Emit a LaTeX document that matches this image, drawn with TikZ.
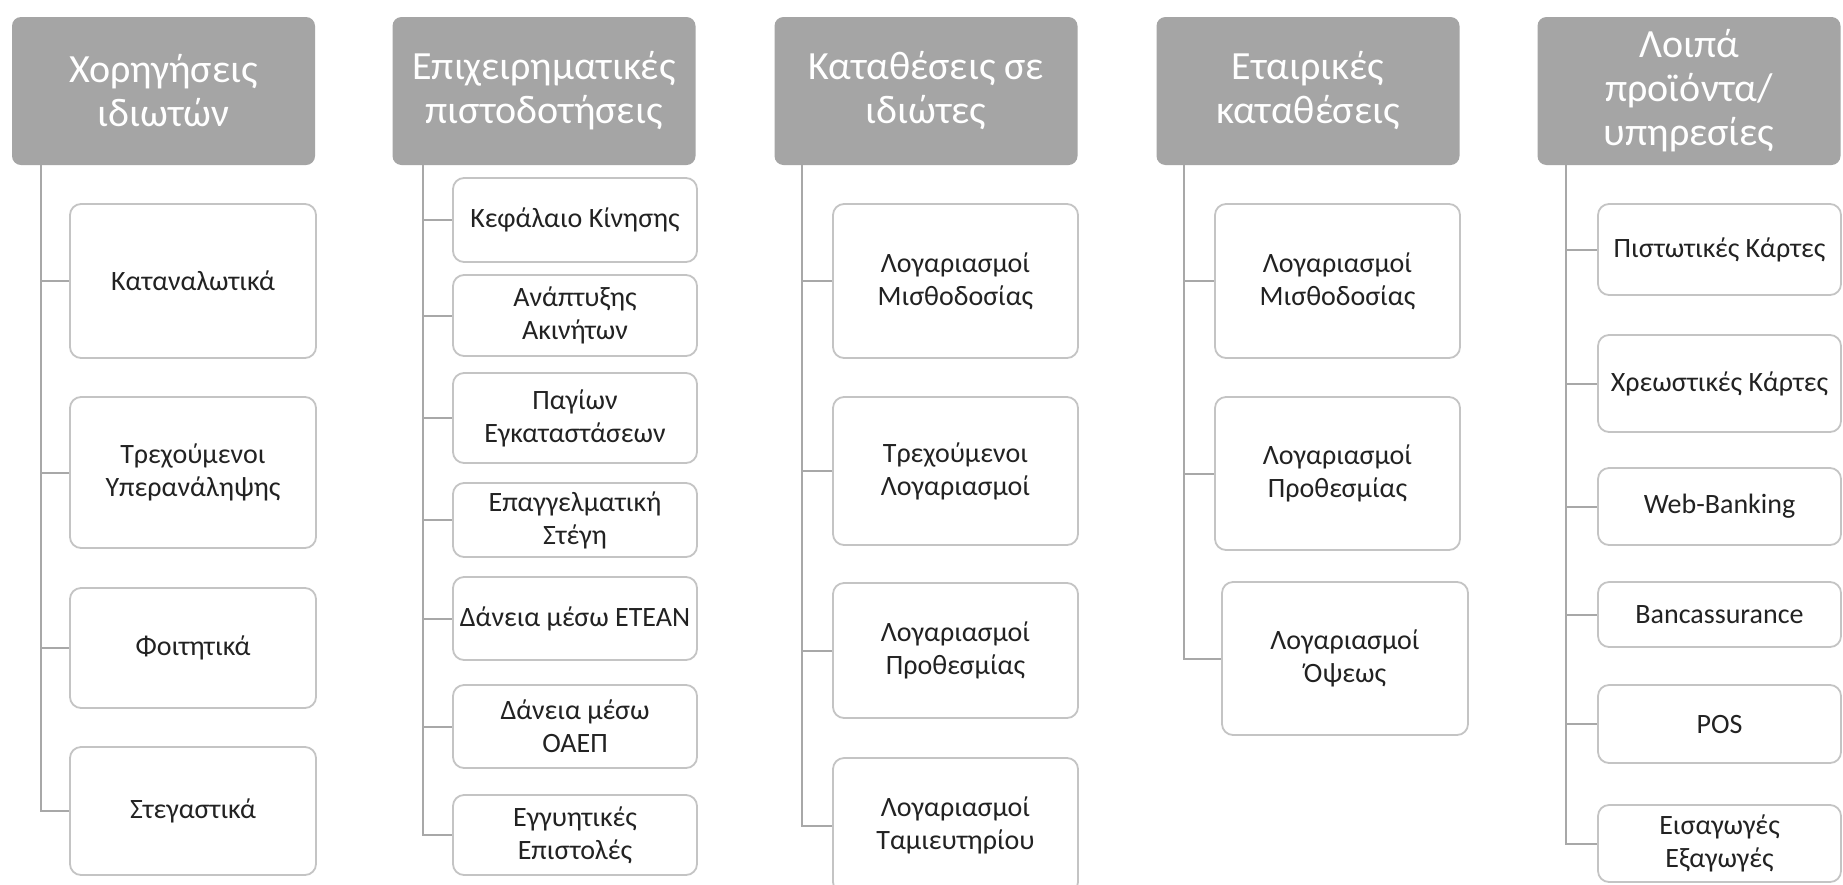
\documentclass[tikz,border=0pt]{standalone}
\usepackage{fontspec}
\setmainfont{Carlito}
\definecolor{hdrgray}{HTML}{A5A5A5}
\definecolor{boxgray}{HTML}{C4C4C4}
\definecolor{linegray}{HTML}{A8A8A8}
\definecolor{txtgray}{HTML}{222222}
\tikzset{
  hdr/.style={rectangle, rounded corners=9pt, fill=hdrgray, text=white,
    font=\fontsize{40}{44}\selectfont, align=center, inner sep=0pt,
    minimum width=303pt, minimum height=148pt},
  itembox/.style={rectangle, rounded corners=11pt, draw=boxgray, line width=1.8pt,
    fill=white, text=txtgray, font=\fontsize{28}{33}\selectfont, align=center, inner sep=0pt},
  conn/.style={draw=linegray, line width=2pt}
}
\newcommand{\ib}[6]{% name, cx, cy, w, h, text
  \node[itembox, minimum width=#4pt, minimum height=#5pt] (#1) at (#2,#3) {#6};}
\begin{document}
\begin{tikzpicture}[x=1pt,y=-1pt]
\useasboundingbox[fill=white] (0,0) rectangle (1843,884);
% headers
\node[hdr] (h1) at (163.5,91) {Χορηγήσεις\\ιδιωτών};
\node[hdr] (h2) at (544,91) {Επιχειρηματικές\\πιστοδοτήσεις};
\node[hdr] (h3) at (926,91) {Καταθέσεις σε\\ιδιώτες};
\node[hdr] (h4) at (1308,91) {Εταιρικές\\καταθέσεις};
\node[hdr] (h5) at (1689,91) {Λοιπά\\προϊόντα/\\υπηρεσίες};
% column 1
\ib{b11}{193}{281}{246}{154}{Καταναλωτικά}
\ib{b12}{193}{472.5}{246}{151}{Τρεχούμενοι\\Υπερανάληψης}
\ib{b13}{193}{648}{246}{120}{Φοιτητικά}
\ib{b14}{193}{811}{246}{128}{Στεγαστικά}
% column 2
\ib{b21}{575}{220}{244}{84}{Κεφάλαιο Κίνησης}
\ib{b22}{575}{315.5}{244}{81}{Ανάπτυξης\\Ακινήτων}
\ib{b23}{575}{418}{244}{90}{Παγίων\\Εγκαταστάσεων}
\ib{b24}{575}{520}{244}{74}{Επαγγελματική\\Στέγη}
\ib{b25}{575}{618.5}{244}{83}{Δάνεια μέσω ΕΤΕΑΝ}
\ib{b26}{575}{726.5}{244}{83}{Δάνεια μέσω\\ΟΑΕΠ}
\ib{b27}{575}{835}{244}{80}{Εγγυητικές\\Επιστολές}
% column 3
\ib{b31}{955.5}{281}{245}{154}{Λογαριασμοί\\Μισθοδοσίας}
\ib{b32}{955.5}{471}{245}{148}{Τρεχούμενοι\\Λογαριασμοί}
\ib{b33}{955.5}{650.5}{245}{135}{Λογαριασμοί\\Προθεσμίας}
\ib{b34}{955.5}{825.5}{245}{135}{Λογαριασμοί\\Ταμιευτηρίου}
% column 4
\ib{b41}{1337.5}{281}{245}{154}{Λογαριασμοί\\Μισθοδοσίας}
\ib{b42}{1337.5}{473.5}{245}{153}{Λογαριασμοί\\Προθεσμίας}
\ib{b43}{1345}{658.5}{246}{153}{Λογαριασμοί\\Όψεως}
% column 5
\ib{b51}{1719.5}{249.5}{243}{91}{Πιστωτικές Κάρτες}
\ib{b52}{1719.5}{383.5}{243}{97}{Χρεωστικές Κάρτες}
\ib{b53}{1719.5}{506.5}{243}{77}{Web-Banking}
\ib{b54}{1719.5}{614.5}{243}{65}{Bancassurance}
\ib{b55}{1719.5}{724}{243}{78}{POS}
\ib{b56}{1719.5}{843.5}{243}{77}{Εισαγωγές\\Εξαγωγές}
% connectors
\foreach \b in {b11,b12,b13,b14}
  \draw[conn] ([xshift=29pt]h1.south west) |- (\b.west);
\foreach \b in {b21,b22,b23,b24,b25,b26,b27}
  \draw[conn] ([xshift=31pt]h2.south west) |- (\b.west);
\foreach \b in {b31,b32,b33,b34}
  \draw[conn] ([xshift=28pt]h3.south west) |- (\b.west);
\foreach \b in {b41,b42,b43}
  \draw[conn] ([xshift=28pt]h4.south west) |- (\b.west);
\foreach \b in {b51,b52,b53,b54,b55,b56}
  \draw[conn] ([xshift=29pt]h5.south west) |- (\b.west);
\end{tikzpicture}
\end{document}
